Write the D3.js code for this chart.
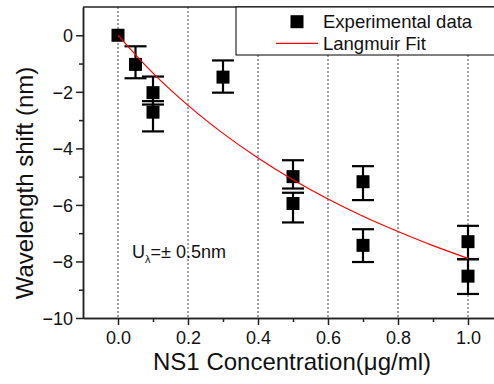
<!DOCTYPE html>
<html>
<head>
<meta charset="utf-8">
<script src="https://cdn.jsdelivr.net/npm/d3@7"></script>
<style>
    body { margin: 0; background: #fff; }
    svg, svg text { font-family: "Liberation Sans", Arial, sans-serif; }
    .axis path, .axis line { stroke: #222; }
    .axis text { fill: #111; font-size: 18px; font-family: "Liberation Sans", Arial, sans-serif; }
    .grid-line { stroke: #444; stroke-dasharray: 2,2; }
    .axis-title { font-size: 24px; fill: #111; }
    .legend text { font-size: 18.5px; fill: #111; }
</style>
</head>
<body>
<div id="chart"></div>
<script>
// measured points (NS1 concentration vs wavelength shift)
const concentration = [0, 0.05, 0.1, 0.1, 0.3, 0.5, 0.5, 0.7, 0.7, 1.0, 1.0];
const wavelengthShift = [0, -1.03, -2.03, -2.72, -1.48, -5.0, -5.95, -5.18, -7.43, -7.30, -8.52];
const errorUp = [0, 0.64, 0.57, 0.39, 0.59, 0.58, 0.38, 0.55, 0.57, 0.56, 0.60];
const errorDown = [0, 0.49, 0.42, 0.68, 0.55, 0.42, 0.67, 0.65, 0.59, 0.62, 0.63];

// Langmuir fit curve
const fitX = [0, 0.1, 0.2, 0.3, 0.4, 0.5, 0.6, 0.7, 0.8, 0.9, 1.0];
const fitY = [0, -1.34, -2.48, -3.47, -4.34, -5.11, -5.79, -6.40, -6.94, -7.44, -7.89];

const xMajorTicks = [0, 0.2, 0.4, 0.6, 0.8, 1.0];
const xMinorTicks = [0.1, 0.3, 0.5, 0.7, 0.9];
const yMajorTicks = [-10, -8, -6, -4, -2, 0];
const yMinorTicks = [-9, -7, -5, -3, -1];

class ScatterFit {
    constructor(_config) {
        this.config = {
            parentElement: _config.parentElement,
            containerWidth: _config.containerWidth || 494,
            containerHeight: _config.containerHeight || 384,
            margin: _config.margin || {top: 7, right: -9, bottom: 66, left: 83},
        }
        this.points = concentration.map((c, i) => ({
            x: c, y: wavelengthShift[i], up: errorUp[i], down: errorDown[i]
        }));
        this.fit = fitX.map((x, i) => ({x: x, y: fitY[i]}));

        this.InitVis();
    }

    InitVis() {
        let vis = this;

        vis.width = vis.config.containerWidth - vis.config.margin.left - vis.config.margin.right;
        vis.height = vis.config.containerHeight - vis.config.margin.top - vis.config.margin.bottom;

        vis.xScale = d3.scaleLinear()
            .domain([-0.1, 1.1])
            .range([0, vis.width]);

        vis.yScale = d3.scaleLinear()
            .domain([-10, 1])
            .range([vis.height, 0]);

        vis.svg = d3.select(vis.config.parentElement).append('svg')
            .attr('width', vis.config.containerWidth)
            .attr('height', vis.config.containerHeight);

        vis.chart = vis.svg.append('g')
            .attr('transform', `translate(${vis.config.margin.left},${vis.config.margin.top})`);

        // dotted vertical grid
        vis.chart.selectAll('.grid-line')
            .data(xMajorTicks)
            .join('line')
            .attr('class', 'grid-line')
            .attr('x1', d => vis.xScale(d))
            .attr('x2', d => vis.xScale(d))
            .attr('y1', 0)
            .attr('y2', vis.height);

        // top frame line
        vis.chart.append('line')
            .attr('x1', 0).attr('x2', vis.width)
            .attr('y1', 0).attr('y2', 0)
            .attr('stroke', '#222')
            .attr('stroke-width', 1.5);

        // axes, major + minor
        vis.xAxisG = vis.chart.append('g')
            .attr('class', 'axis x-axis')
            .attr('transform', `translate(0,${vis.height})`)
            .call(d3.axisBottom(vis.xScale).tickValues(xMajorTicks).tickFormat(d3.format('.1f'))
                .tickSize(7).tickSizeOuter(0).tickPadding(6.5));
        vis.chart.append('g')
            .attr('class', 'axis x-minor')
            .attr('transform', `translate(0,${vis.height})`)
            .call(d3.axisBottom(vis.xScale).tickValues(xMinorTicks).tickFormat('')
                .tickSize(4).tickSizeOuter(0));

        vis.yAxisG = vis.chart.append('g')
            .attr('class', 'axis y-axis')
            .call(d3.axisLeft(vis.yScale).tickValues(yMajorTicks).tickFormat(d3.format('d'))
                .tickSize(7).tickSizeOuter(0).tickPadding(3));
        vis.chart.append('g')
            .attr('class', 'axis y-minor')
            .call(d3.axisLeft(vis.yScale).tickValues(yMinorTicks).tickFormat('')
                .tickSize(4).tickSizeOuter(0));

        // minor axes carry no labels
        vis.chart.selectAll('.x-minor text, .y-minor text').remove();
        vis.chart.selectAll('.axis').attr('font-family', null).attr('font-size', null);
        vis.chart.selectAll('.axis path, .axis line').attr('stroke-width', 1.5);
        vis.chart.selectAll('.y-axis text').attr('dy', '0.36em');

        vis.marks = vis.chart.append('g');

        // titles
        vis.svg.append('text')
            .attr('class', 'axis-title')
            .attr('x', 292)
            .attr('y', 370)
            .attr('text-anchor', 'middle')
            .text('NS1 Concentration(\u03bcg/ml)');

        vis.svg.append('text')
            .attr('class', 'axis-title')
            .attr('transform', 'translate(33,183) rotate(-90)')
            .attr('text-anchor', 'middle')
            .text('Wavelength shift (nm)');

        // uncertainty note
        let note = vis.svg.append('text')
            .attr('x', 132)
            .attr('y', 258)
            .style('font-size', '18px')
            .attr('fill', '#111');
        note.append('tspan').text('U');
        note.append('tspan').attr('dy', 5).style('font-size', '11px').text('\u03bb');
        note.append('tspan').attr('dy', -5).text('=\u00b1 0.5nm');

        vis.RenderVis();
    }

    RenderVis() {
        let vis = this;
        const sq = 13;
        const cap = 11;

        vis.line = d3.line()
            .x(d => vis.xScale(d.x))
            .y(d => vis.yScale(d.y))
            .curve(d3.curveMonotoneX);

        // error bars
        let bars = vis.marks.selectAll('.err')
            .data(vis.points.filter(d => d.up > 0 || d.down > 0))
            .join('g')
            .attr('class', 'err')
            .attr('stroke', '#000')
            .attr('stroke-width', 2.2);
        bars.append('line')
            .attr('x1', d => vis.xScale(d.x)).attr('x2', d => vis.xScale(d.x))
            .attr('y1', d => vis.yScale(d.y + d.up))
            .attr('y2', d => vis.yScale(d.y - d.down));
        bars.append('line')
            .attr('x1', d => vis.xScale(d.x) - cap).attr('x2', d => vis.xScale(d.x) + cap)
            .attr('y1', d => vis.yScale(d.y + d.up)).attr('y2', d => vis.yScale(d.y + d.up));
        bars.append('line')
            .attr('x1', d => vis.xScale(d.x) - cap).attr('x2', d => vis.xScale(d.x) + cap)
            .attr('y1', d => vis.yScale(d.y - d.down)).attr('y2', d => vis.yScale(d.y - d.down));

        vis.marks.selectAll('.pt')
            .data(vis.points)
            .join('rect')
            .attr('class', 'pt')
            .attr('x', d => vis.xScale(d.x) - sq / 2)
            .attr('y', d => vis.yScale(d.y) - sq / 2)
            .attr('width', sq)
            .attr('height', sq)
            .attr('fill', '#000');

        vis.marks.append('path')
            .datum(vis.fit)
            .attr('d', vis.line)
            .attr('fill', 'none')
            .attr('stroke', '#f00')
            .attr('stroke-width', 1.2);

        // legend
        let legend = vis.svg.append('g').attr('class', 'legend');
        legend.append('rect')
            .attr('x', 236).attr('y', 7)
            .attr('width', 270).attr('height', 48)
            .attr('fill', '#fff')
            .attr('stroke', '#000')
            .attr('stroke-width', 1);
        legend.append('rect')
            .attr('x', 297 - sq / 2).attr('y', 21.7 - sq / 2)
            .attr('width', sq).attr('height', sq)
            .attr('fill', '#000');
        legend.append('text').attr('x', 323).attr('y', 27.5).text('Experimental data');
        legend.append('line')
            .attr('x1', 276).attr('x2', 318)
            .attr('y1', 43.3).attr('y2', 43.3)
            .attr('stroke', '#f00').attr('stroke-width', 1.2);
        legend.append('text').attr('x', 323).attr('y', 49.5).text('Langmuir Fit');
    }
}

let chart = new ScatterFit({parentElement: '#chart'});
</script>
</body>
</html>
